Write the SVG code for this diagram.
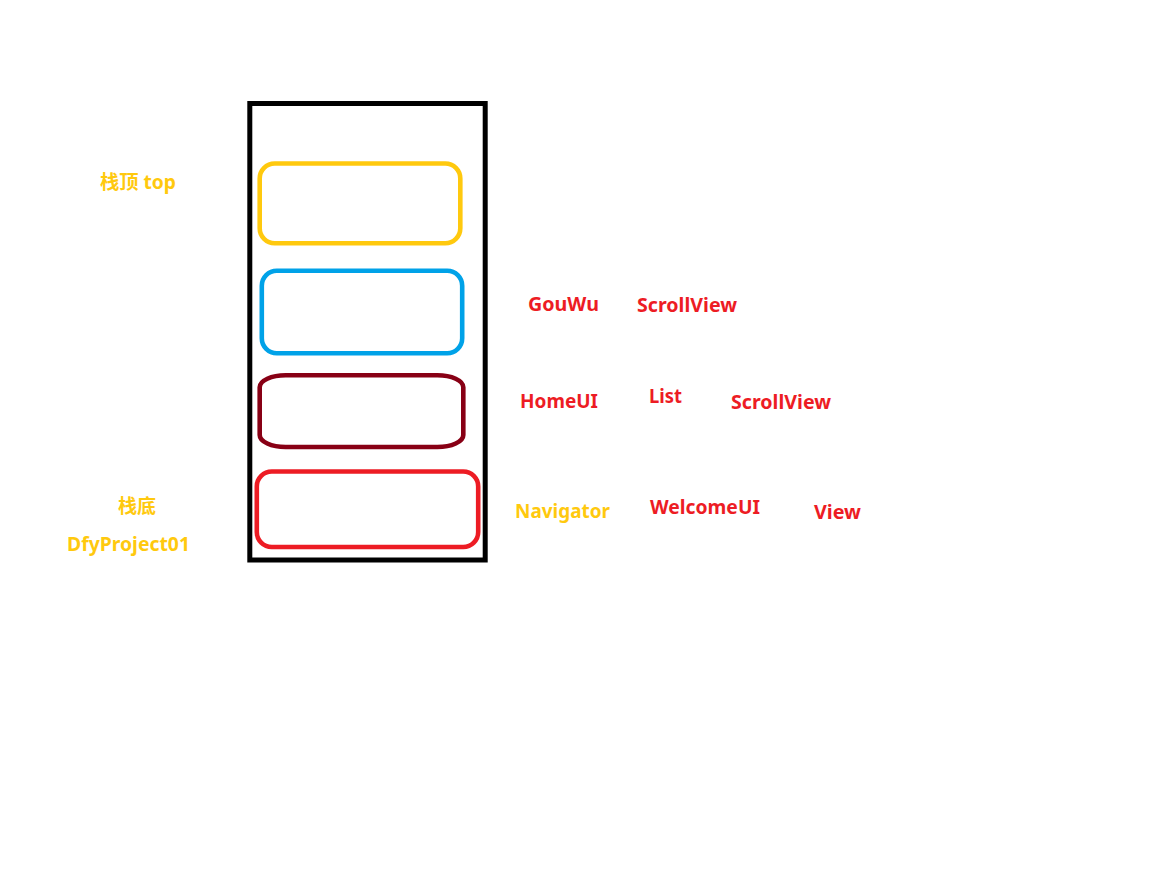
<svg xmlns="http://www.w3.org/2000/svg" width="1152" height="882" viewBox="0 0 1152 882">
<style>
.t{font-family:"Noto Sans","Noto Sans CJK SC",sans-serif;font-weight:bold;font-size:19px}
.y{fill:#FFC90E}
.r{fill:#ED1C24}
.box{fill:none;stroke-width:4.6}
</style>
<rect x="0" y="0" width="1152" height="882" fill="#ffffff"/>
<g id="stack">
<rect x="249.8" y="103.5" width="235.4" height="456.5" fill="none" stroke="#000000" stroke-width="5"/>
</g>
<g id="frame-top">
<rect class="box" x="259.7" y="163.5" width="200.6" height="79.7" rx="15" ry="15" stroke="#FFC90E"/>
</g>
<g id="frame-gouwu">
<rect class="box" x="261.8" y="270.7" width="200.4" height="82.5" rx="15" ry="15" stroke="#00A2E8"/>
</g>
<g id="frame-home">
<rect class="box" x="259.7" y="375.2" width="203.6" height="71.8" rx="26" ry="12" stroke="#880015"/>
</g>
<g id="frame-welcome">
<rect class="box" x="256.8" y="471.5" width="221.4" height="75.5" rx="15" ry="15" stroke="#ED1C24"/>
</g>
<g id="labels-left">
<text class="t y" x="100" y="189" textLength="76" lengthAdjust="spacingAndGlyphs">栈顶 top</text>
<text class="t y" x="118" y="513" textLength="38" lengthAdjust="spacingAndGlyphs">栈底</text>
<text class="t y" x="67" y="551" textLength="123" lengthAdjust="spacingAndGlyphs">DfyProject01</text>
</g>
<g id="labels-right">
<text class="t r" x="528" y="311" textLength="71" lengthAdjust="spacingAndGlyphs">GouWu</text>
<text class="t r" x="637" y="312" textLength="100" lengthAdjust="spacingAndGlyphs">ScrollView</text>
<text class="t r" x="520" y="408" textLength="78" lengthAdjust="spacingAndGlyphs">HomeUI</text>
<text class="t r" x="649" y="402.5" textLength="33" lengthAdjust="spacingAndGlyphs">List</text>
<text class="t r" x="731" y="408.5" textLength="100" lengthAdjust="spacingAndGlyphs">ScrollView</text>
<text class="t y" x="515" y="518" textLength="95" lengthAdjust="spacingAndGlyphs">Navigator</text>
<text class="t r" x="650" y="513.5" textLength="110" lengthAdjust="spacingAndGlyphs">WelcomeUI</text>
<text class="t r" x="814" y="518.5" textLength="47" lengthAdjust="spacingAndGlyphs">View</text>
</g>
</svg>
